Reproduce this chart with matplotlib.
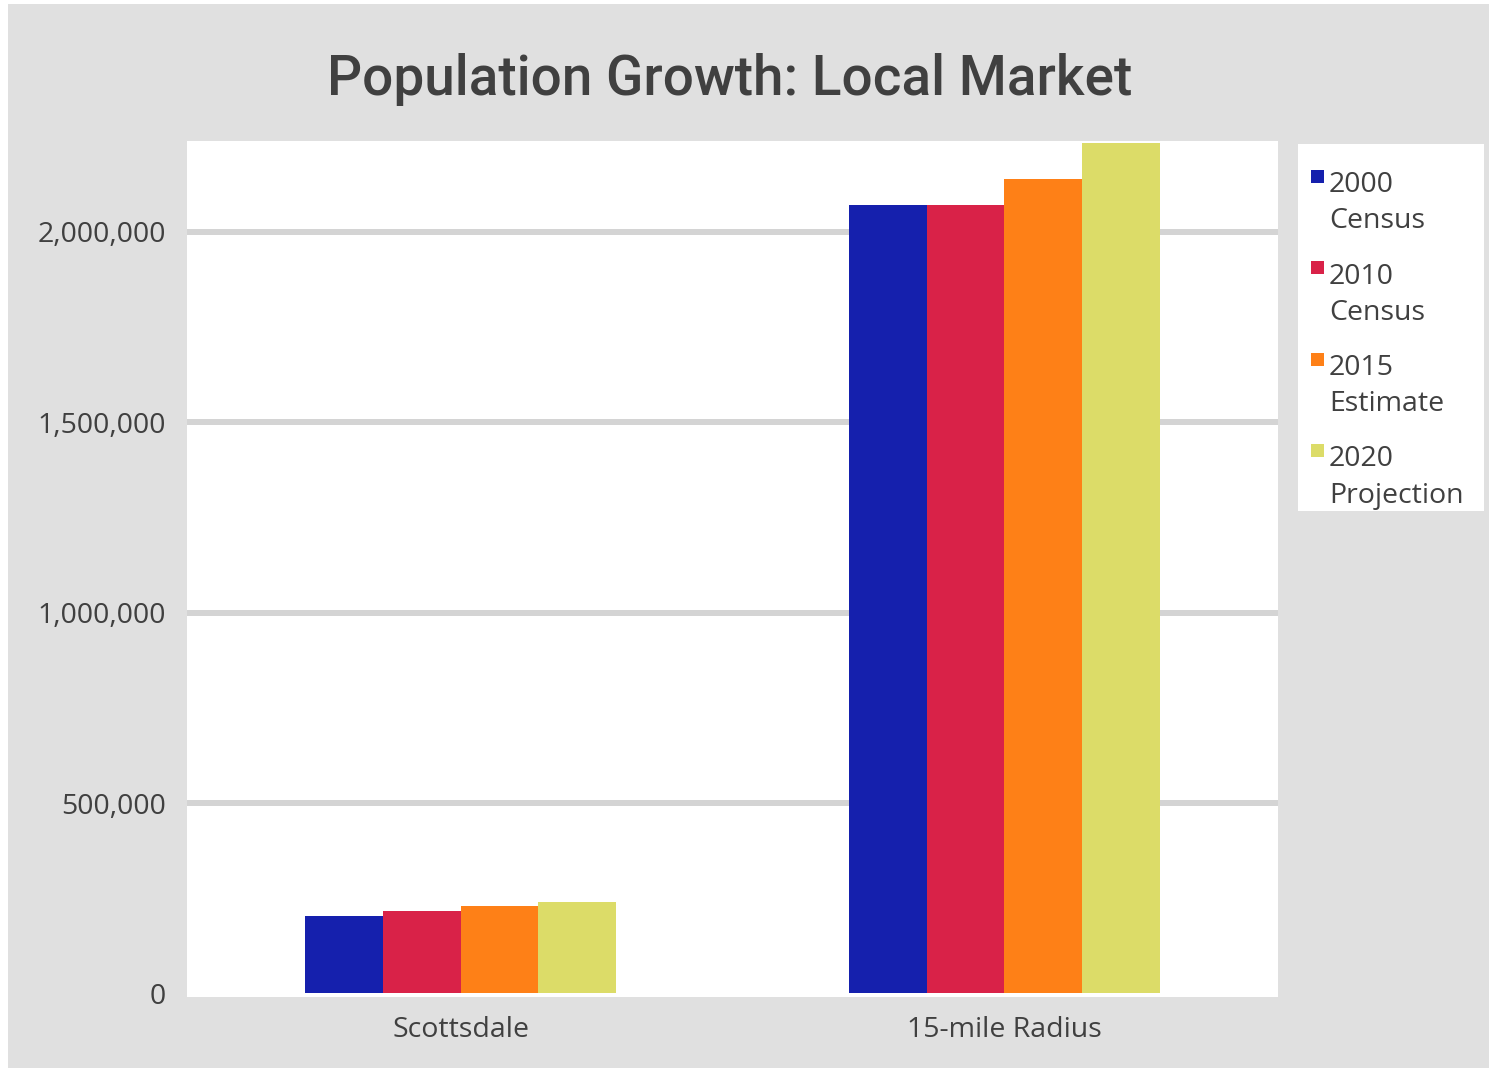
import numpy as np
import matplotlib
matplotlib.use("Agg")
import matplotlib.pyplot as plt
from matplotlib.patches import Rectangle
from matplotlib.ticker import FuncFormatter

# population by area
areas = ["Scottsdale", "15-mile Radius"]
series_labels = [("2000", "Census"), ("2010", "Census"), ("2015", "Estimate"), ("2020", "Projection")]
pop_2000 = [202705, 2070000]
pop_2010 = [217385, 2070000]
pop_2015 = [231000, 2139000]
pop_2020 = [239000, 2233000]
yticks = [0, 500000, 1000000, 1500000, 2000000]

colors = ["#1520ad", "#d92248", "#fe8017", "#dcdc68"]
bg = "#e0e0e0"
txt = "#404040"
W, H = 1489, 1068

plt.rcParams["font.family"] = ["Open Sans", "DejaVu Sans"]

fig = plt.figure(figsize=(W / 100, H / 100), dpi=100)
fig.patch.set_facecolor("white")
# grey panel, thin white edge on left and top
fig.patches.append(Rectangle((8 / W, 0), 1, 1 - 4 / H, transform=fig.transFigure,
                             facecolor=bg, edgecolor="none", zorder=-10))


def fx(px):
    return px / W


def fy(py):
    return 1 - py / H


ax = fig.add_axes([fx(187), fy(996.5), fx(1278) - fx(187), fy(141) - fy(996.5)])
ax.set_facecolor("white")

x = np.arange(len(areas))
w = 0.143
all_series = [pop_2000, pop_2010, pop_2015, pop_2020]
for i, vals in enumerate(all_series):
    ax.bar(x + (i - 1.5) * w, vals, width=w, color=colors[i], zorder=3, linewidth=0)

for t in yticks[1:]:
    ax.axhline(t, color="#d4d4d4", linewidth=4.3, zorder=1)

ax.set_xlim(-0.503, 1.503)
ax.set_ylim(-8000, 2239000)
ax.set_yticks(yticks)
ax.yaxis.set_major_formatter(FuncFormatter(lambda v, p: f"{int(v):,}"))
ax.set_xticks(x)
ax.set_xticklabels(areas)
ax.tick_params(axis="y", length=0, pad=15, labelsize=20.5, labelcolor=txt)
ax.tick_params(axis="x", length=0, pad=14, labelsize=20.5, labelcolor=txt)
for s in ax.spines.values():
    s.set_visible(False)

fig.text(fx(730), fy(80), "Population Growth: Local Market", ha="center", va="center",
         fontsize=39.5, color=txt, family=["Roboto", "DejaVu Sans"], fontweight="medium")

# legend box
fig.patches.append(Rectangle((fx(1298), fy(511)), fx(1484) - fx(1298), fy(144) - fy(511),
                             transform=fig.transFigure, facecolor="white", edgecolor="none", zorder=1))
for i, (yr, kind) in enumerate(series_labels):
    base = 192 + i * 91.5
    fig.patches.append(Rectangle((fx(1311), fy(base - 9.5)), fx(12.7), fy(0) - fy(12.7),
                                 transform=fig.transFigure, facecolor=colors[i],
                                 edgecolor="none", zorder=2))
    fig.text(fx(1329), fy(base), yr, ha="left", va="baseline", fontsize=20.5, color=txt, zorder=3)
    fig.text(fx(1329), fy(base + 36), kind, ha="left", va="baseline", fontsize=20.5, color=txt, zorder=3)

fig.savefig("out.png", dpi=100, facecolor=fig.get_facecolor())
